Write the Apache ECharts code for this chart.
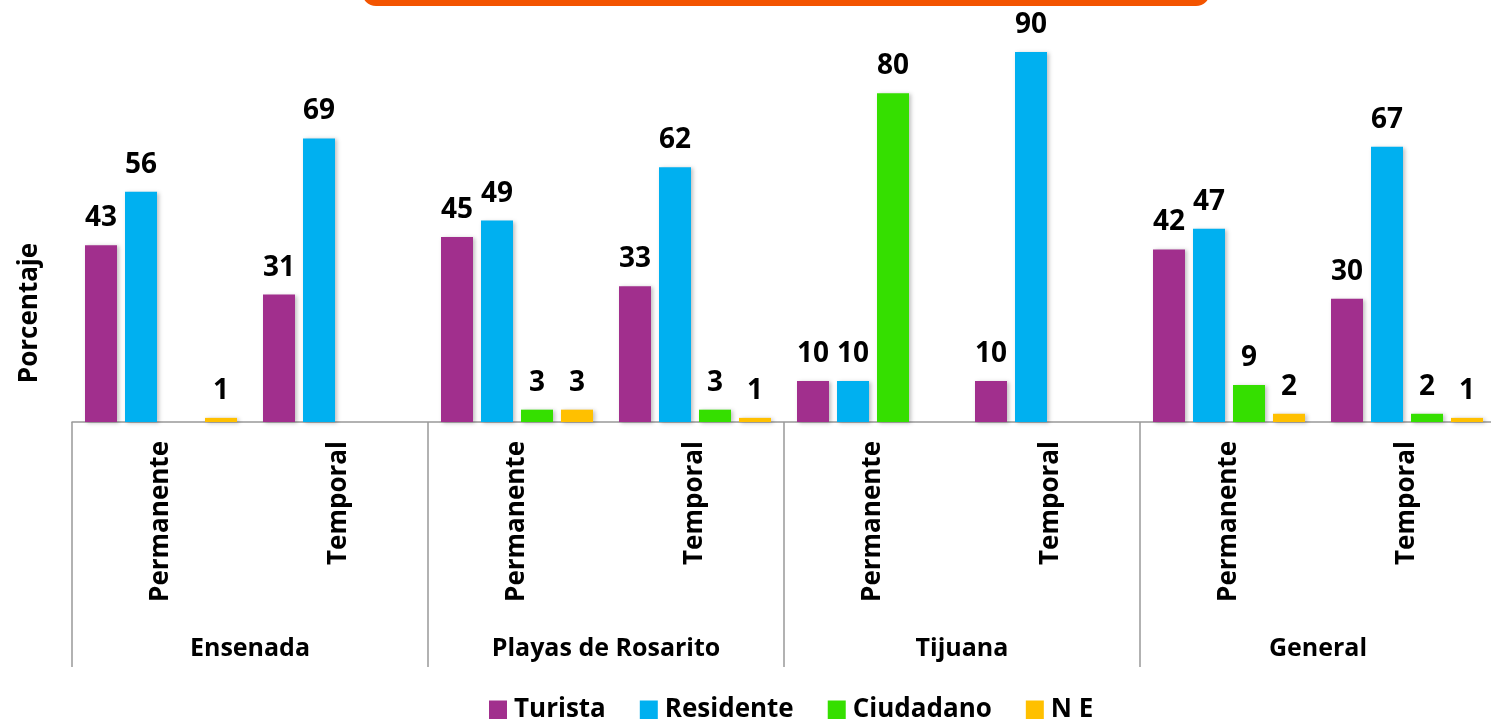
<!DOCTYPE html>
<html>
<head>
<meta charset="utf-8">
<script src="https://cdn.jsdelivr.net/npm/echarts@6/dist/echarts.min.js"></script>
<style>
  html, body { margin: 0; padding: 0; background: #fff; }
  #chart { width: 1491px; height: 719px; }
</style>
</head>
<body>
<div id="chart"></div>
<script>
// datos
const categorias = ['Permanente', 'Temporal', 'Permanente', 'Temporal', 'Permanente', 'Temporal', 'Permanente', 'Temporal'];
const grupos = ['Ensenada', 'Playas de Rosarito', 'Tijuana', 'General'];
const turista = [43, 31, 45, 33, 10, 10, 42, 30];
const residente = [56, 69, 49, 62, 10, 90, 47, 67];
const ciudadano = [null, null, 3, 3, 80, null, 9, 2];
const noEspecifica = [1, null, 3, 1, null, null, 2, 1];

const fuente = "'Open Sans', sans-serif";
const myChart = echarts.init(document.getElementById('chart'));

function serie(nombre, datos, color) {
  return {
    name: nombre,
    type: 'bar',
    data: datos,
    barWidth: 32,
    barGap: '25%',
    itemStyle: {
      color: color,
      shadowBlur: 4,
      shadowOffsetX: 2,
      shadowOffsetY: 1,
      shadowColor: 'rgba(0,0,0,0.25)'
    },
    label: {
      show: true,
      position: 'top',
      distance: 13,
      color: '#000',
      fontFamily: fuente,
      fontWeight: 'bold',
      fontSize: 28
    }
  };
}

const option = {
  animation: false,
  backgroundColor: '#fff',
  textStyle: { fontFamily: fuente },
  graphic: [
    {
      type: 'rect',
      shape: { x: 362, y: -30, width: 848, height: 36, r: 14 },
      style: { fill: '#F35400' }
    },
    {
      type: 'text',
      x: 30,
      y: 313,
      rotation: Math.PI / 2,
      style: {
        text: 'Porcentaje',
        fill: '#000',
        font: "bold 26px 'Open Sans', sans-serif",
        align: 'center',
        verticalAlign: 'middle'
      }
    }
  ],
  grid: { left: 72, top: 11, right: -5, bottom: 297, outerBoundsMode: 'none' },
  legend: {
    data: ['Turista', 'Residente', 'Ciudadano', 'N E'],
    left: 484,
    top: 692,
    icon: 'rect',
    itemWidth: 18,
    itemHeight: 19,
    itemGap: 34,
    textStyle: { color: '#000', fontFamily: fuente, fontWeight: 'bold', fontSize: 26, padding: [0, 0, 0, 2] }
  },
  xAxis: [
    {
      type: 'category',
      data: categorias,
      axisLine: { lineStyle: { color: '#999', width: 1.5 } },
      axisTick: { show: false },
      axisLabel: {
        interval: 0,
        rotate: 90,
        margin: 19,
        color: '#000',
        fontFamily: fuente,
        fontWeight: 'bold',
        fontSize: 26
      }
    },
    {
      type: 'category',
      data: grupos,
      position: 'bottom',
      offset: 245,
      axisLine: { show: false },
      axisTick: { show: true, inside: true, length: 245, lineStyle: { color: '#999', width: 1.5 } },
      axisLabel: {
        inside: true,
        margin: 6,
        color: '#000',
        fontFamily: fuente,
        fontWeight: 'bold',
        fontSize: 25
      }
    }
  ],
  yAxis: {
    type: 'value',
    min: 0,
    max: 100,
    show: false
  },
  series: [
    serie('Turista', turista, '#A12F8D'),
    serie('Residente', residente, '#00B0F0'),
    serie('Ciudadano', ciudadano, '#35DF00'),
    serie('N E', noEspecifica, '#FFC000')
  ]
};

myChart.setOption(option);
</script>
</body>
</html>
